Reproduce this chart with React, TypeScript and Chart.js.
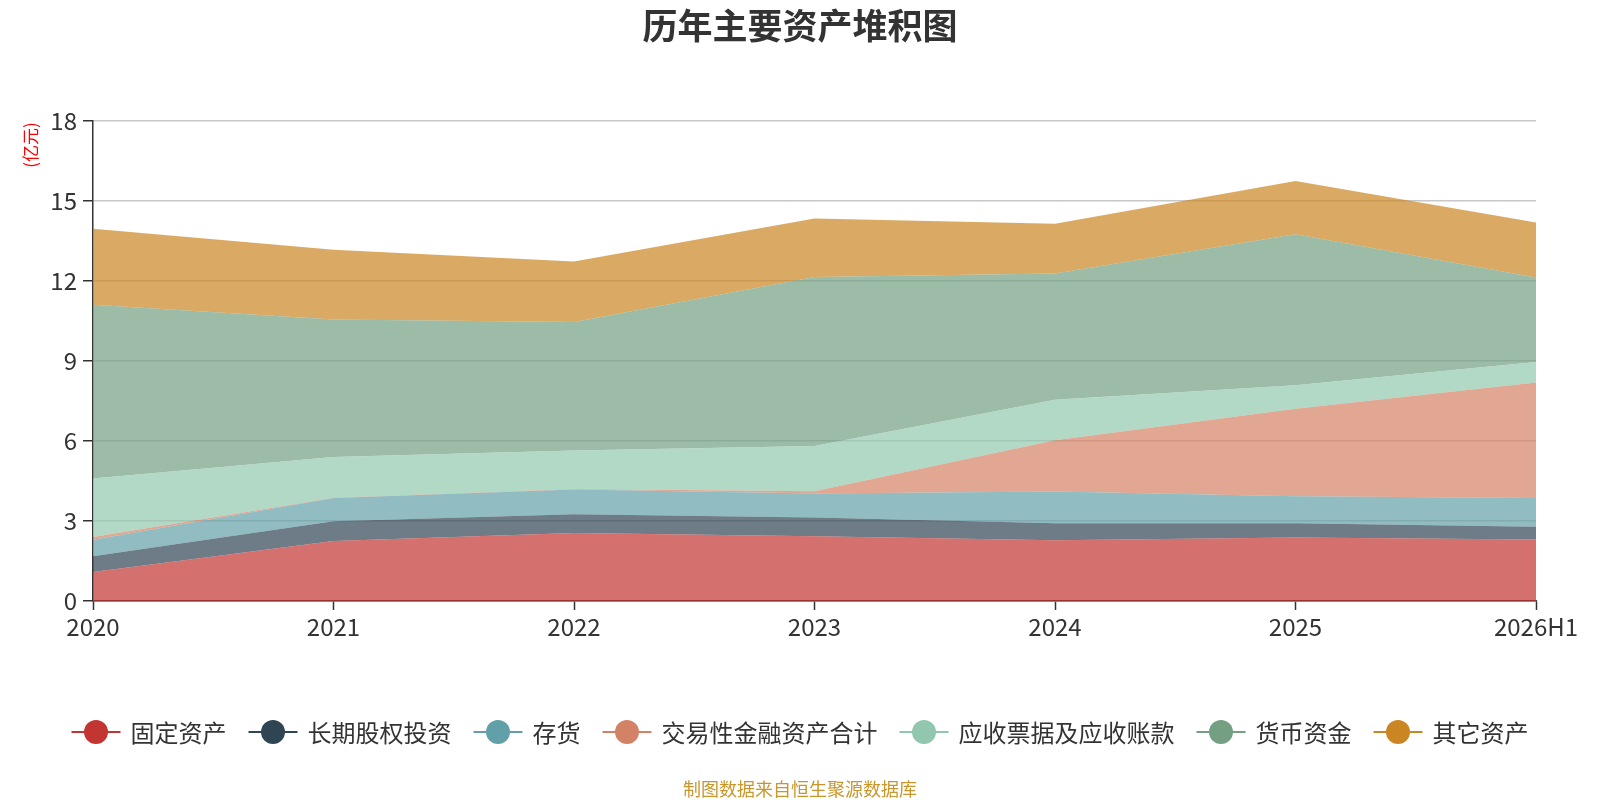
import React, { useEffect, useRef } from "react";
import { Chart, registerables } from "chart.js";

Chart.register(...registerables);

const categories = ["2020", "2021", "2022", "2023", "2024", "2025", "2026H1"];
const seriesNames = ["固定资产", "长期股权投资", "存货", "交易性金融资产合计", "应收票据及应收账款", "货币资金", "其它资产"];
const fixedAssets = [1.09, 2.25, 2.55, 2.43, 2.28, 2.38, 2.31];
const longTermEquity = [0.59, 0.74, 0.70, 0.70, 0.64, 0.54, 0.47];
const inventory = [0.62, 0.87, 0.93, 0.90, 1.19, 1.01, 1.08];
const tradingAssets = [0.10, 0.01, 0.02, 0.09, 1.92, 3.28, 4.33];
const receivables = [2.19, 1.53, 1.44, 1.69, 1.52, 0.88, 0.77];
const cash = [6.52, 5.16, 4.82, 6.34, 4.73, 5.66, 3.17];
const otherAssets = [2.85, 2.61, 2.27, 2.19, 1.87, 2.00, 2.06];
const yTicks = [0, 3, 6, 9, 12, 15, 18];

const colors = ["#c23531", "#2f4554", "#61a0a8", "#d48265", "#91c7ae", "#749f83", "#ca8622"];
const FONT = "'Noto Sans CJK SC', 'Noto Sans', sans-serif";

function hexA(hex: string, a: number) {
  const n = parseInt(hex.slice(1), 16);
  return `rgba(${(n >> 16) & 255},${(n >> 8) & 255},${n & 255},${a})`;
}

const overlayPlugin = {
  id: "overlay",
  afterDraw(chart: any) {
    const ctx = chart.ctx as CanvasRenderingContext2D;
    ctx.save();
    // title
    ctx.fillStyle = "#333";
    ctx.font = `bold 35px ${FONT}`;
    ctx.textAlign = "center";
    ctx.textBaseline = "middle";
    ctx.fillText("历年主要资产堆积图", 800, 26);

    // unit label
    ctx.save();
    ctx.translate(31, 145);
    ctx.rotate(-Math.PI / 2);
    ctx.fillStyle = "#ff0000";
    ctx.font = `17px ${FONT}`;
    ctx.textAlign = "center";
    ctx.textBaseline = "middle";
    ctx.fillText("(亿元)", 0, 0);
    ctx.restore();

    // legend
    ctx.font = `24px ${FONT}`;
    const iconW = 49;
    const gapIT = 10;
    const gapItems = 22;
    const widths = seriesNames.map((n) => ctx.measureText(n).width);
    const total = widths.reduce((s, w) => s + iconW + gapIT + w, 0) + gapItems * (seriesNames.length - 1);
    let x = 800 - total / 2;
    const ly = 732;
    seriesNames.forEach((name, i) => {
      ctx.strokeStyle = colors[i];
      ctx.lineWidth = 2;
      ctx.beginPath();
      ctx.moveTo(x, ly);
      ctx.lineTo(x + iconW, ly);
      ctx.stroke();
      ctx.fillStyle = colors[i];
      ctx.beginPath();
      ctx.arc(x + iconW / 2, ly, 12, 0, Math.PI * 2);
      ctx.fill();
      ctx.fillStyle = "#333";
      ctx.textAlign = "left";
      ctx.textBaseline = "middle";
      ctx.fillText(name, x + iconW + gapIT, ly + 1);
      x += iconW + gapIT + widths[i] + gapItems;
    });

    // source
    ctx.fillStyle = "#c9962b";
    ctx.font = `18px ${FONT}`;
    ctx.textAlign = "center";
    ctx.textBaseline = "middle";
    ctx.fillText("制图数据来自恒生聚源数据库", 800, 789);
    ctx.restore();
  },
};

export default function App() {
  const ref = useRef<HTMLCanvasElement>(null);
  useEffect(() => {
    if (!ref.current) return;
    const values = [fixedAssets, longTermEquity, inventory, tradingAssets, receivables, cash, otherAssets];
    const chart = new Chart(ref.current, {
      type: "line",
      data: {
        labels: categories,
        datasets: values.map((d, i) => ({
          label: seriesNames[i],
          data: d,
          backgroundColor: hexA(colors[i], 0.7),
          borderColor: hexA(colors[i], 0.7),
          borderWidth: 0,
          pointRadius: 0,
          fill: i === 0 ? "origin" : "-1",
          tension: 0,
        })),
      },
      options: {
        animation: false,
        responsive: false,
        devicePixelRatio: 1,
        layout: { padding: { left: 0, right: 64, top: 121, bottom: 159 } },
        plugins: {
          legend: { display: false },
          title: { display: false },
          tooltip: { enabled: false },
        },
        scales: {
          x: {
            offset: false,
            grid: {
              display: true,
              drawOnChartArea: false,
              drawTicks: true,
              tickLength: 9,
              tickColor: "#333",
              tickWidth: 1.5,
            },
            border: { display: true, color: "#333", width: 1.5 },
            ticks: {
              color: "#333",
              font: { size: 24, family: FONT },
              padding: 2,
              maxRotation: 0,
              autoSkip: false,
            },
            afterFit(scale: any) {
              scale.height = 40;
            },
          },
          y: {
            stacked: true,
            min: 0,
            max: 18,
            afterBuildTicks(scale: any) {
              scale.ticks = yTicks.map((v) => ({ value: v }));
            },
            grid: {
              color: "#c8c8c8",
              lineWidth: 1.5,
              drawTicks: true,
              tickLength: 10,
              tickColor: "#333",
              tickWidth: 1.5,
            },
            border: { display: true, color: "#333", width: 1.5 },
            ticks: {
              color: "#333",
              font: { size: 24, family: FONT },
              padding: 6,
            },
            afterFit(scale: any) {
              scale.width = 93;
            },
          },
        },
      },
      plugins: [overlayPlugin],
    });
    return () => chart.destroy();
  }, []);
  return (
    <div style={{ position: "absolute", left: 0, top: 0, width: 1600, height: 800, background: "#fff" }}>
      <canvas ref={ref} width={1600} height={800} style={{ width: 1600, height: 800, display: "block" }} />
    </div>
  );
}
